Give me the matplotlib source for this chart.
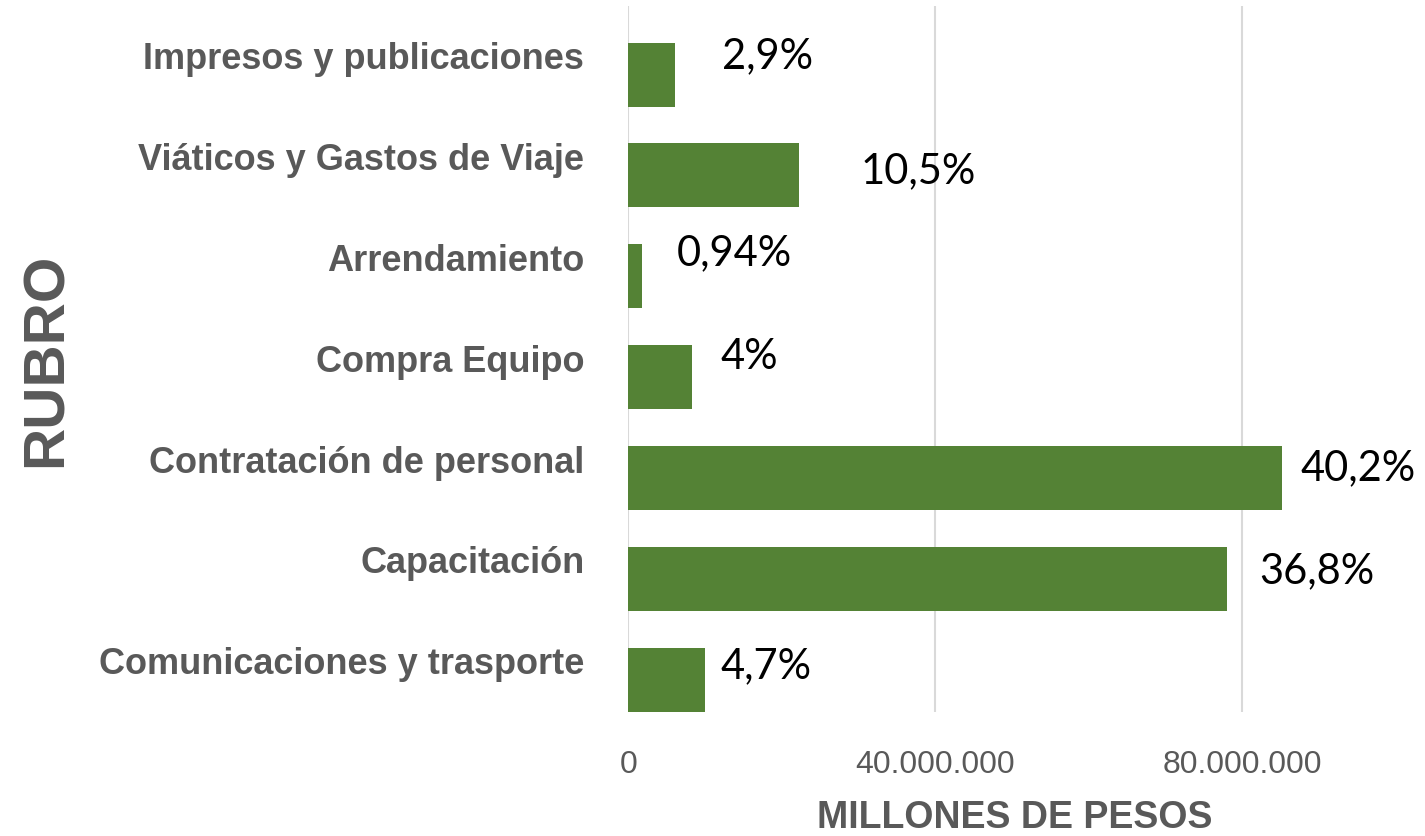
import matplotlib
matplotlib.use("Agg")
import matplotlib.pyplot as plt
import matplotlib.transforms as mtransforms

# ---- data ----
categories = ["Comunicaciones y trasporte", "Capacitación", "Contratación de personal",
              "Compra Equipo", "Arrendamiento", "Viáticos y Gastos de Viaje",
              "Impresos y publicaciones"]
values = [10.0e6, 78.1e6, 85.2e6, 8.3e6, 1.8e6, 22.3e6, 6.1e6]
pct_labels = ["4,7%", "36,8%", "40,2%", "4%", "0,94%", "10,5%", "2,9%"]
xticks = [0, 40e6, 80e6]
xtick_labels = ["0", "40.000.000", "80.000.000"]

# hand-placed label offsets (pixels from bar end / bar centre)
label_dx = [15, 32, 19, 28, 35, 61, 47]
label_dy = [15, 9, 11, 21, 24, 5, 19]

W, H = 1425, 837
fig = plt.figure(figsize=(W / 100, H / 100), dpi=100)
ax = fig.add_axes([628.3 / W, 1 - 713 / H, (1420 - 628.3) / W, (713 - 7) / H])

gray = "#595959"
green = "#548235"

ypos = list(range(len(categories)))
ax.barh(ypos, values, height=0.635, color=green, zorder=3)
ax.set_xlim(0, 103.2e6)
ax.set_ylim(-0.32, 6.68)

ax.set_xticks(xticks)
ax.set_xticklabels(xtick_labels, fontsize=23, color=gray, family="Liberation Sans")
ax.set_yticks(ypos)
ax.set_yticklabels(categories, fontsize=26, color=gray, fontweight="bold",
                   family="Liberation Sans")
ax.tick_params(axis="x", length=0, pad=27)
ax.tick_params(axis="y", length=0, pad=31.7)
offset = mtransforms.ScaledTranslation(0, 20 / 100, fig.dpi_scale_trans)
for lab in ax.get_yticklabels():
    lab.set_transform(lab.get_transform() + offset)

ax.grid(axis="x", color="#d9d9d9", linewidth=1.5, zorder=0)
ax.grid(axis="y", visible=False)
for s in ax.spines.values():
    s.set_visible(False)

for y, v, t, dx, dy in zip(ypos, values, pct_labels, label_dx, label_dy):
    ax.annotate(t, xy=(v, y), xytext=(dx, dy), textcoords="offset pixels",
                ha="left", va="center", fontsize=30, family="Lato", color="black")

fig.text(1015 / W, 1 - 818 / H, "MILLONES DE PESOS", ha="center", va="center",
         fontsize=27, fontweight="bold", color=gray, family="Liberation Sans")
fig.text(47 / W, 1 - 360 / H, "RUBRO", ha="center", va="center", rotation=90,
         fontsize=42, fontweight="bold", color=gray, family="Liberation Sans")

fig.savefig("out.png", dpi=100)
